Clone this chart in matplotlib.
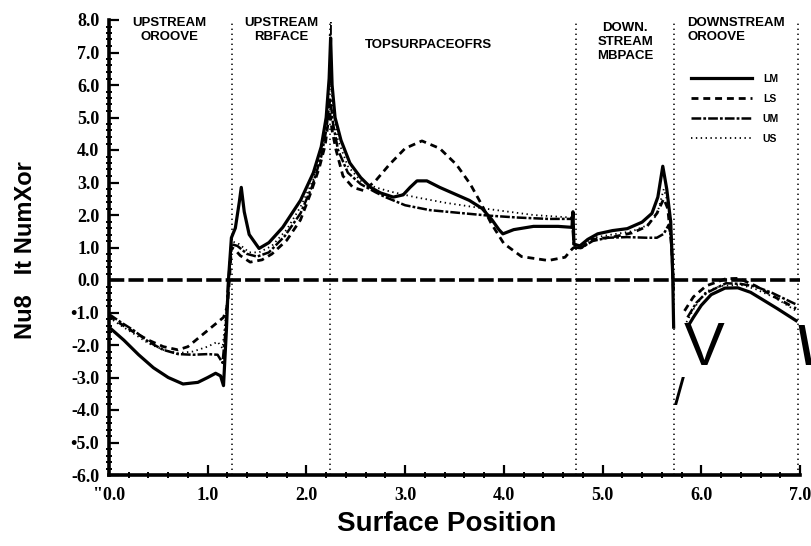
# === IMPORTS ===
import numpy as np
import matplotlib
matplotlib.use("Agg")
import matplotlib.pyplot as plt
from matplotlib.ticker import MultipleLocator, FixedLocator, FixedFormatter

nan = np.nan

# === DATA ===
# surface position along the groove / rib / groove profile
x_lm = [0.00, 0.15, 0.30, 0.45, 0.60, 0.75, 0.90, 1.00, 1.08, 1.13, 1.16, 1.19, 1.21, 1.24,
        1.28, 1.32, 1.34, 1.37, 1.42, 1.52, 1.62, 1.76, 1.94, 2.07, 2.15, 2.20, 2.23, 2.245,
        2.26, 2.29, 2.35, 2.44, 2.55, 2.65, 2.75, 2.88, 2.98, 3.05, 3.12, 3.22, 3.35, 3.50,
        3.65, 3.78, 3.88, 3.95, 3.99, 4.10, 4.30, 4.55, 4.69, 4.70, 4.71, 4.77, 4.85, 4.95,
        5.10, 5.25, 5.40, 5.50, 5.56, 5.61, 5.65, 5.69, 5.71, 5.72, 5.80,
        5.87, 5.92, 6.00, 6.10, 6.24, 6.37, 6.50, 6.63, 6.77, 6.96]
y_lm = [-1.45, -1.85, -2.30, -2.70, -3.00, -3.20, -3.15, -3.00, -2.87, -2.95, -3.25, -1.50, 0.00, 1.30,
        1.60, 2.40, 2.85, 2.10, 1.40, 0.97, 1.15, 1.62, 2.45, 3.30, 4.10, 5.00, 6.20, 7.45,
        6.00, 5.00, 4.30, 3.60, 3.15, 2.85, 2.68, 2.55, 2.62, 2.85, 3.05, 3.05, 2.85, 2.65,
        2.45, 2.20, 1.85, 1.55, 1.42, 1.55, 1.65, 1.65, 1.62, 2.10, 1.10, 1.05, 1.25, 1.42,
        1.52, 1.58, 1.78, 2.05, 2.55, 3.50, 2.80, 1.80, 0.20, -1.45, nan,
        -1.40, -1.15, -0.78, -0.45, -0.25, -0.24, -0.38, -0.62, -0.88, -1.25]

x_ls = [0.00, 0.12, 0.25, 0.40, 0.55, 0.70, 0.80, 0.90, 1.00, 1.10, 1.16, 1.20, 1.22, 1.24,
        1.27, 1.33, 1.43, 1.55, 1.65, 1.80, 1.94, 2.04, 2.13, 2.19, 2.235, 2.26, 2.30, 2.37,
        2.47, 2.58, 2.70, 2.84, 3.00, 3.17, 3.35, 3.52, 3.66, 3.77, 3.87, 4.00, 4.18, 4.45,
        4.62, 4.69, 4.71, 4.78, 4.90, 5.10, 5.30, 5.45, 5.55, 5.62, 5.66, 5.70, 5.72, 5.78,
        5.83, 5.92, 6.05, 6.25, 6.38, 6.55, 6.76, 6.96]
y_ls = [-1.10, -1.35, -1.60, -1.85, -2.05, -2.15, -2.05, -1.80, -1.55, -1.30, -1.15, -0.80, 0.00, 1.00,
        0.95, 0.75, 0.55, 0.62, 0.80, 1.22, 1.85, 2.65, 3.45, 4.15, 5.20, 4.60, 4.00, 3.20,
        2.85, 2.75, 3.05, 3.55, 4.05, 4.28, 4.05, 3.55, 2.95, 2.35, 1.75, 1.12, 0.72, 0.60,
        0.70, 0.95, 1.00, 0.98, 1.25, 1.32, 1.45, 1.65, 2.05, 2.50, 2.20, 1.00, -0.50, nan,
        -0.95, -0.52, -0.18, 0.04, 0.05, -0.18, -0.55, -0.88]

x_um = [0.00, 0.12, 0.25, 0.40, 0.55, 0.70, 0.85, 1.00, 1.10, 1.15, 1.18, 1.21, 1.24, 1.30,
        1.40, 1.50, 1.62, 1.78, 1.94, 2.06, 2.15, 2.20, 2.24, 2.27, 2.32, 2.42, 2.55, 2.70,
        2.80, 3.00, 3.25, 3.60, 3.85, 4.15, 4.45, 4.69, 4.71, 4.78, 4.90, 5.05, 5.25, 5.45,
        5.55, 5.62, 5.67, 5.70, 5.72, 5.78,
        5.86, 5.95, 6.05, 6.25, 6.40, 6.55, 6.72, 6.96]
y_um = [-1.05, -1.30, -1.55, -1.90, -2.15, -2.28, -2.30, -2.28, -2.30, -2.55, -1.60, 0.00, 1.10, 1.05,
        0.80, 0.72, 0.85, 1.35, 2.05, 2.90, 3.80, 4.60, 5.60, 4.80, 4.00, 3.30, 2.95, 2.70,
        2.55, 2.30, 2.15, 2.05, 1.98, 1.92, 1.88, 1.88, 1.00, 0.98, 1.20, 1.30, 1.32, 1.30,
        1.30, 1.42, 1.70, 1.20, -0.30, nan,
        -1.15, -0.70, -0.40, -0.10, -0.12, -0.20, -0.40, -0.75]

x_us = [0.00, 0.12, 0.25, 0.40, 0.55, 0.70, 0.85, 1.00, 1.10, 1.15, 1.18, 1.21, 1.24, 1.32,
        1.42, 1.52, 1.65, 1.80, 1.94, 2.07, 2.15, 2.20, 2.24, 2.27, 2.32, 2.42, 2.55, 2.70,
        2.85, 3.10, 3.40, 3.75, 4.00, 4.30, 4.69, 4.71, 4.78, 4.90, 5.10, 5.30, 5.45, 5.55,
        5.62, 5.66, 5.70, 5.72, 5.78,
        5.85, 5.93, 6.05, 6.20, 6.40, 6.55, 6.75, 6.96]
y_us = [-1.15, -1.40, -1.65, -1.95, -2.15, -2.25, -2.20, -2.05, -1.90, -2.10, -1.20, 0.00, 1.20, 1.10,
        0.85, 0.85, 1.05, 1.55, 2.25, 3.10, 4.00, 4.90, 6.30, 5.20, 4.30, 3.50, 3.05, 2.85,
        2.72, 2.55, 2.38, 2.22, 2.12, 2.00, 1.92, 1.10, 1.05, 1.30, 1.40, 1.50, 1.68, 2.00,
        2.80, 2.40, 1.30, -0.80, nan,
        -1.30, -0.85, -0.35, -0.18, -0.15, -0.28, -0.55, -0.95]

series_names = ["LM", "LS", "UM", "US"]

# region boundaries and their (OCR-garbled) captions
boundaries = [1.25, 2.24, 4.73, 5.72, 6.98]
region_labels = ["UPSTREAM\nOROOVE", "UPSTREAM\nRBFACE", "TOPSURPACEOFRS",
                 "DOWN.\nSTREAM\nMBPACE", "DOWNSTREAM\nOROOVE"]
region_x = [0.61, 1.75, 3.24, 5.23, 5.86]
region_y = [8.09, 8.09, 7.40, 7.94, 8.09]
region_ha = ["center", "center", "center", "center", "left"]

yticks = [8, 7, 6, 5, 4, 3, 2, 1, 0, -1, -2, -3, -4, -5, -6]
ytick_labels = ["8.0", "7.0", "6.0", "5.0", "4.0", "3.0", "2.0", "1.0", "0.0",
                "\u20221.0", "-2.0", "-3.0", "-4.0", "\u20225.0", "-6.0"]
xticks = [0, 1, 2, 3, 4, 5, 6, 7]
xtick_labels = ["\"0.0", "1.0", "2.0", "3.0", "4.0", "5.0", "6.0", "7.0"]

# === FIGURE ===
plt.rcParams["lines.scale_dashes"] = False
W, H = 812, 546
fig = plt.figure(figsize=(W / 100, H / 100), dpi=100)
ax = fig.add_axes([109 / W, 1 - 475 / H, 691 / W, 455 / H])
ax.set_xlim(0, 7)
ax.set_ylim(-6, 8)

serif = "Liberation Serif"
sans = "Liberation Sans"

# dotted region boundaries
for b in boundaries:
    ax.axvline(b, color="black", lw=1.1, linestyle=(0, (1, 2.6)), zorder=1)

# dashed zero line
ax.axhline(0, color="black", lw=2.6, linestyle=(0, (11, 3)), zorder=2)

styles = {
    "LM": dict(lw=2.3, linestyle="-"),
    "LS": dict(lw=2.0, linestyle=(0, (5, 3.5))),
    "UM": dict(lw=1.8, linestyle=(0, (7, 1.5, 2, 1.5))),
    "US": dict(lw=1.3, linestyle=(0, (1, 2.5))),
}
data = {"LM": (x_lm, y_lm), "LS": (x_ls, y_ls), "UM": (x_um, y_um), "US": (x_us, y_us)}
handles = []
for name in series_names:
    xs, ys = data[name]
    h, = ax.plot(xs, ys, color="black", label=name, zorder=3, **styles[name])
    handles.append(h)

# spines / ticks
for s in ["top", "right"]:
    ax.spines[s].set_visible(False)
for s in ["left", "bottom"]:
    ax.spines[s].set_linewidth(2.6)

ax.yaxis.set_major_locator(FixedLocator(yticks))
ax.yaxis.set_major_formatter(FixedFormatter(ytick_labels))
ax.xaxis.set_major_locator(FixedLocator(xticks))
ax.xaxis.set_major_formatter(FixedFormatter(xtick_labels))
ax.xaxis.set_minor_locator(MultipleLocator(0.2))
ax.yaxis.set_minor_locator(MultipleLocator(0.2))
ax.tick_params(which="major", direction="in", length=7, width=1.6, pad=7)
ax.tick_params(which="minor", direction="inout", length=4, width=1.4)
ax.tick_params(axis="x", which="major", pad=9)
for lab in ax.get_xticklabels() + ax.get_yticklabels():
    lab.set_fontfamily(serif)
    lab.set_fontweight("bold")
    lab.set_fontsize(13)

# region captions
for lab, xr, yr, ha in zip(region_labels, region_x, region_y, region_ha):
    ax.text(xr, yr, lab, ha=ha, va="top", multialignment=ha, fontsize=9.5,
            fontweight="bold", family=sans, linespacing=1.2, clip_on=False)
ax.text(2.245, 7.95, "j", ha="center", va="top", fontsize=10, fontweight="bold",
        family=sans, clip_on=False)

# legend
leg = ax.legend(handles=handles, loc="upper left", bbox_to_anchor=(691 / W, 1 - 74 / H),
                bbox_transform=fig.transFigure, frameon=False, fontsize=7.5,
                handlelength=5.9, handletextpad=1.0, labelspacing=0.95,
                borderpad=0, borderaxespad=0)
for t in leg.get_texts():
    t.set_fontweight("bold")
    t.set_family(sans)

# scan artifacts in the lower right
ax.text(6.03, -2.15, "V", ha="center", va="center", fontsize=44, family=sans, clip_on=False)
ax.text(7.05, -2.15, "\\", ha="center", va="center", fontsize=38, fontweight="bold",
        family=sans, clip_on=False)
ax.text(5.78, -3.55, "/", ha="center", va="center", fontsize=28, family=sans, clip_on=False)

# axis titles
fig.text(26 / W, 1 - 250 / H, "Nu8   It NumXor", rotation=90, ha="center", va="center",
         fontsize=17, fontweight="bold", family=sans)
fig.text(447 / W, 1 - 524 / H, "Surface Position", ha="center", va="center",
         fontsize=20, fontweight="bold", family=sans)

fig.savefig("out.png", dpi=100)
